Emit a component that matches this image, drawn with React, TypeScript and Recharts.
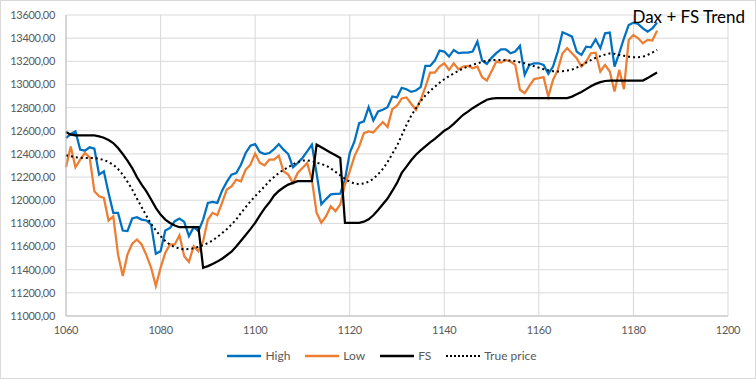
import React from 'react';
import { LineChart, Line, XAxis, YAxis, CartesianGrid, Legend } from 'recharts';

// period index on the x axis, one step per bar
const periods: number[] = Array.from({ length: 126 }, (_, i) => 1060 + i);

const high: number[] = [
  12537, 12572, 12595, 12437, 12428, 12457, 12445, 12221, 12250, 12063,
  11891, 11891, 11738, 11733, 11842, 11853, 11833, 11825, 11790, 11537,
  11560, 11738, 11761, 11819, 11842, 11813, 11690, 11767, 11733, 11833,
  11977, 11986, 11977, 12083, 12158, 12221, 12235, 12307, 12408, 12471,
  12485, 12416, 12399, 12408, 12442, 12485, 12437, 12399, 12284, 12322,
  12365, 12422, 12480, 12230, 11965, 12010, 12050, 12055, 12057, 12180,
  12408, 12508, 12666, 12681, 12804, 12689, 12767, 12781, 12804, 12896,
  12888, 12971, 12959, 12936, 12948, 12977, 13160, 13160, 13206, 13293,
  13284, 13241, 13298, 13270, 13275, 13275, 13284, 13370, 13206, 13178,
  13230, 13270, 13304, 13304, 13270, 13284, 13333, 13083, 13169, 13183,
  13183, 13169, 13092, 13155, 13284, 13451, 13433, 13413, 13284, 13255,
  13327, 13321, 13390, 13313, 13442, 13448, 13155, 13270, 13399, 13514,
  13534, 13523, 13485, 13456, 13485, 13534,
];

const low: number[] = [
  12284, 12465, 12284, 12350, 12408, 12370, 12077, 12034, 12020, 11825,
  11862, 11532, 11345, 11532, 11624, 11661, 11618, 11526, 11417, 11259,
  11417, 11546, 11618, 11618, 11698, 11517, 11468, 11603, 11560, 11646,
  11833, 11891, 11871, 11977, 12092, 12120, 12178, 12164, 12264, 12307,
  12402, 12322, 12302, 12350, 12350, 12385, 12250, 12221, 12149, 12236,
  12279, 12322, 12178, 11891, 11805, 11862, 11948, 11905, 11963, 12135,
  12250, 12379, 12465, 12580, 12595, 12586, 12632, 12675, 12632, 12787,
  12816, 12879, 12888, 12833, 12781, 12867, 12977, 13103, 13103, 13155,
  13183, 13126, 13183, 13132, 13155, 13160, 13140, 13155, 13063, 13034,
  13115, 13198, 13189, 13212, 13198, 13169, 12954, 12925, 12988, 13046,
  13054, 13063, 12896, 13040, 13126, 13270, 13313, 13270, 13227, 13155,
  13198, 13270, 13275, 13112, 13169, 13112, 12939, 13126, 12959, 13385,
  13428, 13399, 13356, 13385, 13379, 13465,
];

const fs: number[] = [
  12589, 12566, 12560, 12560, 12560, 12560, 12560, 12552, 12540, 12520,
  12494, 12451, 12399, 12342, 12278, 12200, 12135, 12077, 12006, 11934,
  11876, 11833, 11804, 11782, 11767, 11767, 11767, 11767, 11767, 11417,
  11431, 11450, 11470, 11495, 11525, 11555, 11600, 11650, 11700, 11750,
  11805, 11870, 11930, 11980, 12040, 12080, 12110, 12135, 12150, 12164,
  12164, 12164, 12164, 12480, 12457, 12434, 12411, 12388, 12365, 11805,
  11805, 11805, 11805, 11815, 11835, 11870, 11915, 11965, 12015, 12080,
  12150, 12236, 12290, 12345, 12393, 12430, 12465, 12500, 12530, 12565,
  12600, 12625, 12660, 12700, 12738, 12765, 12795, 12820, 12845, 12868,
  12878, 12882, 12882, 12882, 12882, 12882, 12882, 12882, 12882, 12882,
  12882, 12882, 12882, 12882, 12882, 12882, 12882, 12895, 12915, 12935,
  12960, 12985, 13005, 13020, 13030, 13034, 13034, 13034, 13034, 13034,
  13034, 13034, 13034, 13055, 13080, 13103,
];

const truePrice: number[] = [
  12388, 12380, 12372, 12366, 12365, 12365, 12364, 12358, 12348, 12330,
  12307, 12270, 12221, 12160, 12092, 12015, 11940, 11865, 11795, 11740,
  11690, 11648, 11615, 11595, 11582, 11576, 11578, 11585, 11596, 11612,
  11630, 11652, 11683, 11715, 11750, 11790, 11835, 11890, 11940, 11990,
  12035, 12077, 12120, 12165, 12200, 12235, 12262, 12285, 12310, 12330,
  12342, 12345, 12338, 12325, 12312, 12300, 12275, 12245, 12215, 12185,
  12160, 12145, 12138, 12145, 12160, 12185, 12225, 12270, 12330, 12400,
  12470, 12560, 12650, 12730, 12795, 12855, 12905, 12945, 12980, 13015,
  13045, 13072, 13095, 13118, 13138, 13155, 13170, 13182, 13195, 13205,
  13210, 13212, 13212, 13210, 13206, 13200, 13192, 13183, 13170, 13158,
  13145, 13132, 13122, 13115, 13112, 13115, 13120, 13128, 13145, 13165,
  13189, 13210, 13230, 13245, 13258, 13268, 13265, 13255, 13248, 13240,
  13236, 13235, 13240, 13255, 13275, 13298,
];

const xTicks = [1060, 1080, 1100, 1120, 1140, 1160, 1180, 1200];
const yTicks = [11000, 11200, 11400, 11600, 11800, 12000, 12200, 12400, 12600, 12800, 13000, 13200, 13400, 13600];

const data = periods.map((p, i) => ({
  period: p,
  high: high[i],
  low: low[i],
  fs: fs[i],
  truePrice: truePrice[i],
}));

const FONT = 'Lato, "Open Sans", sans-serif';
const GREY = '#595959';
const tickStyle = { fill: GREY, fontSize: 11, fontFamily: FONT, letterSpacing: -0.3 };

const legendItems = [
  { key: 'high', label: 'High', color: '#0070C0', dash: undefined as string | undefined },
  { key: 'low', label: 'Low', color: '#ED7D31', dash: undefined },
  { key: 'fs', label: 'FS', color: '#000000', dash: undefined },
  { key: 'truePrice', label: 'True price', color: '#000000', dash: '2 2' },
];

const ChartLegend = () => (
  <div style={{ display: 'flex', justifyContent: 'center', alignItems: 'center', paddingLeft: 48, fontFamily: FONT, fontSize: 12, color: GREY }}>
    {legendItems.map((it) => (
      <div key={it.key} style={{ display: 'flex', alignItems: 'center', marginRight: 14 }}>
        <svg width={36} height={6} style={{ marginRight: 3 }}>
          <line x1={1} y1={3} x2={35} y2={3} stroke={it.color} strokeWidth={it.dash ? 2 : 2.5} strokeDasharray={it.dash} />
        </svg>
        <span>{it.label}</span>
      </div>
    ))}
  </div>
);

export default function App() {
  return (
    <div
      style={{
        position: 'absolute',
        left: 0,
        top: 0,
        width: 756,
        height: 379,
        boxSizing: 'border-box',
        border: '1px solid #d9d9d9',
        background: '#fff',
      }}
    >
      <LineChart width={754} height={377} data={data} margin={{ top: 14, right: 27, left: 0, bottom: 0 }}>
        <CartesianGrid stroke="#d9d9d9" strokeWidth={1} />
        <XAxis
          dataKey="period"
          type="number"
          domain={[1060, 1200]}
          ticks={xTicks}
          height={32}
          tickSize={0}
          tickMargin={10}
          axisLine={{ stroke: '#bfbfbf' }}
          tick={tickStyle}
        />
        <YAxis
          type="number"
          domain={[11000, 13600]}
          ticks={yTicks}
          width={65}
          tickSize={0}
          tickMargin={11}
          axisLine={{ stroke: '#bfbfbf' }}
          tick={tickStyle}
          tickFormatter={(v: number) => v.toFixed(2).replace('.', ',')}
        />
        <Legend verticalAlign="bottom" height={30} content={() => <ChartLegend />} />
        <Line dataKey="high" stroke="#0070C0" strokeWidth={2.25} dot={false} isAnimationActive={false} />
        <Line dataKey="low" stroke="#ED7D31" strokeWidth={2.25} dot={false} isAnimationActive={false} />
        <Line dataKey="fs" stroke="#000000" strokeWidth={2.25} dot={false} isAnimationActive={false} />
        <Line dataKey="truePrice" stroke="#000000" strokeWidth={2} strokeDasharray="2 3" dot={false} isAnimationActive={false} />
      </LineChart>
      <div
        style={{
          position: 'absolute',
          right: 10,
          top: 5,
          fontFamily: FONT,
          fontSize: 17,
          color: '#000',
        }}
      >
        Dax + FS Trend
      </div>
    </div>
  );
}
